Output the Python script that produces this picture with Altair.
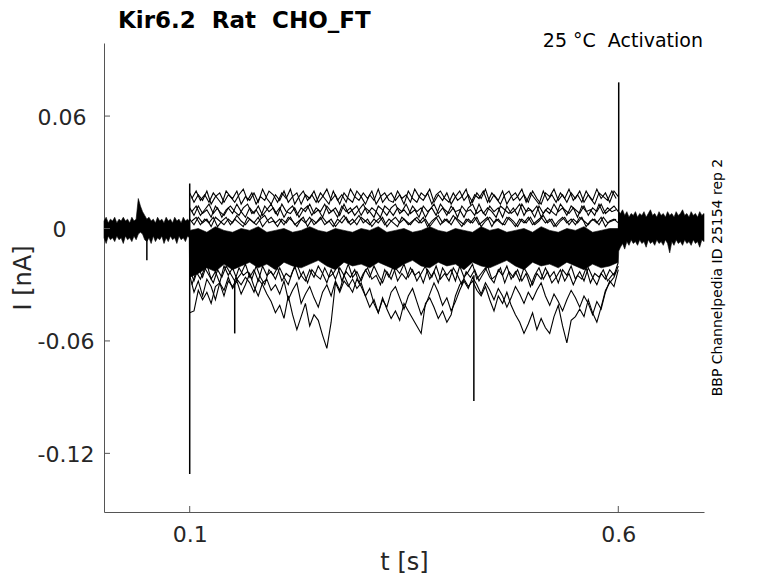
import altair as alt
import pandas as pd

# ---------------- axes / text ----------------
X_DOMAIN = [0.0, 0.7]
Y_DOMAIN = [-0.1513, 0.0990]
X_TICKS = [0.1, 0.6]
X_TICK_LABELS = ["0.1", "0.6"]
Y_TICKS = [0.06, 0.0, -0.06, -0.12]
Y_TICK_LABELS = ["0.06", "0", "-0.06", "-0.12"]

TITLE = "Kir6.2\u00a0 Rat\u00a0 CHO_FT"
CONDITION = "25 \u00b0C\u00a0 Activation"
SOURCE = "BBP Channelpedia ID 25154 rep 2"
X_TITLE = "t [s]"
Y_TITLE = "I [nA]"

# ---------------- baseline band before the step (nA) ----------------
PRE_T = [0.0000, 0.0025, 0.0050, 0.0075, 0.0100, 0.0125, 0.0150, 0.0175, 0.0200, 0.0225,
         0.0250, 0.0275, 0.0300, 0.0325, 0.0350, 0.0375, 0.0400, 0.0425, 0.0450, 0.0475,
         0.0500, 0.0525, 0.0550, 0.0575, 0.0600, 0.0625, 0.0650, 0.0675, 0.0700, 0.0725,
         0.0750, 0.0775, 0.0800, 0.0825, 0.0850, 0.0875, 0.0900, 0.0925, 0.0950, 0.0975,
         0.0995]
PRE_HI = [0.004, 0.006, 0.003, 0.005, 0.004, 0.006, 0.003, 0.005, 0.004, 0.006,
          0.004, 0.005, 0.003, 0.006, 0.004, 0.005, 0.016, 0.012, 0.009, 0.007,
          0.005, 0.006, 0.004, 0.005, 0.003, 0.006, 0.004, 0.005, 0.003, 0.006,
          0.004, 0.005, 0.003, 0.006, 0.004, 0.005, 0.003, 0.006, 0.004, 0.005,
          0.004]
PRE_LO = [-0.005, -0.008, -0.004, -0.006, -0.005, -0.007, -0.004, -0.006, -0.005, -0.008,
          -0.004, -0.006, -0.005, -0.007, -0.004, -0.006, -0.003, -0.002, -0.003, -0.006,
          -0.007, -0.005, -0.008, -0.004, -0.007, -0.005, -0.006, -0.004, -0.008, -0.005,
          -0.007, -0.004, -0.006, -0.005, -0.008, -0.004, -0.006, -0.005, -0.007, -0.004,
          -0.005]

# ---------------- during the step ----------------
STEP_T = [0.100, 0.105, 0.110, 0.115, 0.120, 0.125, 0.130, 0.135, 0.140, 0.145,
          0.150, 0.155, 0.160, 0.165, 0.170, 0.175, 0.180, 0.185, 0.190, 0.195,
          0.200, 0.205, 0.210, 0.215, 0.220, 0.225, 0.230, 0.235, 0.240, 0.245,
          0.250, 0.255, 0.260, 0.265, 0.270, 0.275, 0.280, 0.285, 0.290, 0.295,
          0.300, 0.305, 0.310, 0.315, 0.320, 0.325, 0.330, 0.335, 0.340, 0.345,
          0.350, 0.355, 0.360, 0.365, 0.370, 0.375, 0.380, 0.385, 0.390, 0.395,
          0.400, 0.405, 0.410, 0.415, 0.420, 0.425, 0.430, 0.435, 0.440, 0.445,
          0.450, 0.455, 0.460, 0.465, 0.470, 0.475, 0.480, 0.485, 0.490, 0.495,
          0.500, 0.505, 0.510, 0.515, 0.520, 0.525, 0.530, 0.535, 0.540, 0.545,
          0.550, 0.555, 0.560, 0.565, 0.570, 0.575, 0.580, 0.585, 0.590, 0.595,
          0.600]
# sweeps sampled half-way between the STEP_T samples
STEP_TM = [0.1025, 0.1075, 0.1125, 0.1175, 0.1225, 0.1275, 0.1325, 0.1375, 0.1425, 0.1475,
           0.1525, 0.1575, 0.1625, 0.1675, 0.1725, 0.1775, 0.1825, 0.1875, 0.1925, 0.1975,
           0.2025, 0.2075, 0.2125, 0.2175, 0.2225, 0.2275, 0.2325, 0.2375, 0.2425, 0.2475,
           0.2525, 0.2575, 0.2625, 0.2675, 0.2725, 0.2775, 0.2825, 0.2875, 0.2925, 0.2975,
           0.3025, 0.3075, 0.3125, 0.3175, 0.3225, 0.3275, 0.3325, 0.3375, 0.3425, 0.3475,
           0.3525, 0.3575, 0.3625, 0.3675, 0.3725, 0.3775, 0.3825, 0.3875, 0.3925, 0.3975,
           0.4025, 0.4075, 0.4125, 0.4175, 0.4225, 0.4275, 0.4325, 0.4375, 0.4425, 0.4475,
           0.4525, 0.4575, 0.4625, 0.4675, 0.4725, 0.4775, 0.4825, 0.4875, 0.4925, 0.4975,
           0.5025, 0.5075, 0.5125, 0.5175, 0.5225, 0.5275, 0.5325, 0.5375, 0.5425, 0.5475,
           0.5525, 0.5575, 0.5625, 0.5675, 0.5725, 0.5775, 0.5825, 0.5875, 0.5925, 0.5975]
CORE_T = [0.100, 0.110, 0.120, 0.130, 0.140, 0.150, 0.160, 0.170, 0.180, 0.190,
          0.200, 0.210, 0.220, 0.230, 0.240, 0.250, 0.260, 0.270, 0.280, 0.290,
          0.300, 0.310, 0.320, 0.330, 0.340, 0.350, 0.360, 0.370, 0.380, 0.390,
          0.400, 0.410, 0.420, 0.430, 0.440, 0.450, 0.460, 0.470, 0.480, 0.490,
          0.500, 0.510, 0.520, 0.530, 0.540, 0.550, 0.560, 0.570, 0.580, 0.590,
          0.600]
CORE_HI = [-0.001, 0.000, -0.002, 0.001, -0.001, -0.002, 0.000, -0.001, 0.001, -0.002,
           -0.001, 0.000, -0.002, -0.001, 0.001, -0.001, -0.002, 0.000, -0.001, -0.002,
           0.000, -0.001, 0.001, -0.002, -0.001, 0.000, -0.002, -0.001, 0.001, -0.001,
           -0.002, 0.000, -0.001, -0.002, 0.001, -0.001, 0.000, -0.002, -0.001, 0.000,
           -0.002, 0.001, -0.001, -0.002, 0.000, -0.001, 0.001, -0.002, -0.001, 0.000,
           0.000]
CORE_LO = [-0.026, -0.024, -0.021, -0.023, -0.019, -0.022, -0.020, -0.018, -0.021, -0.019,
           -0.022, -0.018, -0.020, -0.021, -0.019, -0.017, -0.020, -0.022, -0.018, -0.020,
           -0.019, -0.021, -0.018, -0.020, -0.022, -0.019, -0.017, -0.020, -0.021, -0.018,
           -0.020, -0.019, -0.022, -0.018, -0.020, -0.021, -0.019, -0.017, -0.020, -0.022,
           -0.018, -0.020, -0.019, -0.021, -0.018, -0.020, -0.022, -0.019, -0.021, -0.020,
           -0.018]

TRACE_A = [0.019, 0.014, 0.018, 0.015, 0.020, 0.013, 0.017, 0.019, 0.014, 0.018,
           0.016, 0.020, 0.013, 0.017, 0.015, 0.019, 0.014, 0.021, 0.016, 0.013,
           0.018, 0.015, 0.020, 0.014, 0.017, 0.019, 0.013, 0.018, 0.016, 0.020,
           0.014, 0.017, 0.021, 0.015, 0.018, 0.013, 0.019, 0.016, 0.014, 0.020,
           0.017, 0.013, 0.018, 0.015, 0.021, 0.014, 0.017, 0.019, 0.015, 0.018,
           0.013, 0.020, 0.016, 0.014, 0.019, 0.017, 0.021, 0.014, 0.018, 0.015,
           0.019, 0.013, 0.017, 0.020, 0.015, 0.018, 0.014, 0.019, 0.016, 0.021,
           0.014, 0.018, 0.015, 0.020, 0.013, 0.017, 0.019, 0.015, 0.018, 0.014,
           0.020, 0.016, 0.013, 0.019, 0.017, 0.021, 0.015, 0.018, 0.014, 0.019,
           0.016, 0.020, 0.014, 0.018, 0.015, 0.021, 0.016, 0.019, 0.014, 0.020,
           0.017]
TRACE_B = [0.011, 0.007, 0.012, 0.008, 0.010, 0.006, 0.012, 0.009, 0.007, 0.011,
           0.008, 0.013, 0.009, 0.006, 0.011, 0.008, 0.012, 0.007, 0.010, 0.013,
           0.008, 0.011, 0.006, 0.010, 0.012, 0.007, 0.011, 0.009, 0.013, 0.008,
           0.010, 0.006, 0.012, 0.009, 0.011, 0.007, 0.013, 0.008, 0.010, 0.012,
           0.007, 0.011, 0.009, 0.006, 0.012, 0.010, 0.007, 0.011, 0.013, 0.008,
           0.010, 0.007, 0.012, 0.009, 0.011, 0.006, 0.010, 0.013, 0.008, 0.011,
           0.007, 0.012, 0.009, 0.010, 0.006, 0.011, 0.013, 0.008, 0.010, 0.007,
           0.012, 0.009, 0.011, 0.006, 0.012, 0.008, 0.010, 0.013, 0.007, 0.011,
           0.009, 0.012, 0.006, 0.010, 0.008, 0.013, 0.009, 0.011, 0.007, 0.012,
           0.010, 0.008, 0.012, 0.007, 0.011, 0.009, 0.013, 0.008, 0.010, 0.012,
           0.009]
TRACE_C = [0.005, 0.002, 0.006, 0.003, 0.005, 0.001, 0.006, 0.004, 0.002, 0.005,
           0.003, 0.007, 0.004, 0.002, 0.005, 0.003, 0.006, 0.001, 0.004, 0.006,
           0.003, 0.005, 0.002, 0.006, 0.004, 0.001, 0.005, 0.003, 0.006, 0.002,
           0.004, 0.006, 0.003, 0.005, 0.001, 0.004, 0.007, 0.003, 0.005, 0.002,
           0.006, 0.004, 0.002, 0.005, 0.003, 0.006, 0.001, 0.004, 0.006, 0.003,
           0.005, 0.002, 0.004, 0.006, 0.003, 0.005, 0.001, 0.004, 0.007, 0.003,
           0.005, 0.002, 0.006, 0.004, 0.002, 0.005, 0.003, 0.006, 0.001, 0.004,
           0.006, 0.003, 0.005, 0.002, 0.006, 0.004, 0.001, 0.005, 0.003, 0.006,
           0.002, 0.004, 0.006, 0.003, 0.005, 0.001, 0.004, 0.006, 0.003, 0.005,
           0.002, 0.006, 0.004, 0.002, 0.005, 0.003, 0.006, 0.001, 0.004, 0.005,
           0.003]
TRACE_L1 = [-0.045, -0.044, -0.033, -0.038, -0.034, -0.040, -0.031, -0.029, -0.036, -0.028,
            -0.031, -0.027, -0.030, -0.026, -0.029, -0.034, -0.027, -0.030, -0.035, -0.039,
            -0.045, -0.041, -0.048, -0.036, -0.046, -0.054, -0.047, -0.040, -0.052, -0.046,
            -0.049, -0.057, -0.064, -0.050, -0.029, -0.034, -0.028, -0.031, -0.027, -0.032,
            -0.029, -0.036, -0.042, -0.038, -0.045, -0.037, -0.043, -0.048, -0.044, -0.049,
            -0.040, -0.044, -0.048, -0.052, -0.056, -0.040, -0.037, -0.042, -0.048, -0.044,
            -0.050, -0.046, -0.036, -0.030, -0.027, -0.031, -0.028, -0.033, -0.036, -0.031,
            -0.038, -0.044, -0.036, -0.040, -0.034, -0.041, -0.046, -0.050, -0.056, -0.051,
            -0.045, -0.054, -0.048, -0.053, -0.056, -0.047, -0.041, -0.052, -0.061, -0.049,
            -0.047, -0.043, -0.047, -0.038, -0.045, -0.050, -0.042, -0.033, -0.029, -0.026,
            -0.020]
TRACE_L2 = [-0.025, -0.034, -0.028, -0.036, -0.027, -0.031, -0.038, -0.029, -0.033, -0.026,
            -0.032, -0.028, -0.035, -0.030, -0.024, -0.031, -0.036, -0.029, -0.027, -0.033,
            -0.030, -0.035, -0.028, -0.038, -0.033, -0.029, -0.040, -0.035, -0.031, -0.037,
            -0.042, -0.034, -0.030, -0.036, -0.028, -0.033, -0.025, -0.030, -0.034, -0.027,
            -0.031, -0.036, -0.032, -0.040, -0.045, -0.038, -0.042, -0.034, -0.031, -0.037,
            -0.043, -0.036, -0.032, -0.039, -0.046, -0.041, -0.035, -0.029, -0.034, -0.041,
            -0.037, -0.044, -0.039, -0.033, -0.028, -0.032, -0.026, -0.030, -0.035, -0.029,
            -0.033, -0.038, -0.032, -0.036, -0.042, -0.037, -0.031, -0.035, -0.040, -0.034,
            -0.038, -0.033, -0.029, -0.036, -0.041, -0.035, -0.039, -0.044, -0.038, -0.033,
            -0.037, -0.042, -0.036, -0.040, -0.046, -0.039, -0.043, -0.034, -0.028, -0.031,
            -0.022]
TRACE_L3 = [-0.022, -0.028, -0.021, -0.026, -0.019, -0.027, -0.023, -0.029, -0.020, -0.025,
            -0.021, -0.027, -0.024, -0.019, -0.026, -0.022, -0.028, -0.020, -0.025, -0.023,
            -0.027, -0.021, -0.026, -0.030, -0.023, -0.019, -0.025, -0.028, -0.022, -0.026,
            -0.020, -0.024, -0.029, -0.022, -0.027, -0.021, -0.025, -0.019, -0.026, -0.023,
            -0.028, -0.022, -0.026, -0.020, -0.025, -0.029, -0.023, -0.027, -0.021, -0.024,
            -0.019, -0.026, -0.022, -0.028, -0.024, -0.020, -0.027, -0.023, -0.029, -0.021,
            -0.025, -0.022, -0.028, -0.020, -0.026, -0.023, -0.019, -0.027, -0.024, -0.021,
            -0.026, -0.029, -0.022, -0.025, -0.020, -0.027, -0.023, -0.028, -0.021, -0.025,
            -0.030, -0.024, -0.027, -0.021, -0.026, -0.023, -0.029, -0.022, -0.025, -0.020,
            -0.027, -0.023, -0.028, -0.021, -0.026, -0.030, -0.024, -0.027, -0.022, -0.025,
            -0.018]

# second set of sweeps on STEP_TM
TRACE_A2 = [0.016, 0.020, 0.015, 0.018, 0.014, 0.019, 0.016, 0.013, 0.020, 0.017,
            0.014, 0.018, 0.021, 0.015, 0.019, 0.013, 0.017, 0.015, 0.020, 0.018,
            0.014, 0.019, 0.016, 0.021, 0.013, 0.017, 0.020, 0.015, 0.018, 0.014,
            0.019, 0.016, 0.013, 0.020, 0.015, 0.018, 0.014, 0.021, 0.017, 0.015,
            0.019, 0.016, 0.020, 0.013, 0.017, 0.019, 0.015, 0.014, 0.020, 0.016,
            0.018, 0.014, 0.021, 0.017, 0.015, 0.019, 0.013, 0.018, 0.020, 0.016,
            0.014, 0.019, 0.015, 0.017, 0.021, 0.013, 0.018, 0.016, 0.020, 0.014,
            0.019, 0.016, 0.013, 0.018, 0.020, 0.015, 0.017, 0.021, 0.014, 0.019,
            0.016, 0.013, 0.020, 0.015, 0.018, 0.014, 0.019, 0.016, 0.021, 0.015,
            0.018, 0.014, 0.020, 0.016, 0.013, 0.019, 0.017, 0.015, 0.020, 0.016]
TRACE_B2 = [0.009, 0.012, 0.007, 0.010, 0.013, 0.008, 0.011, 0.006, 0.010, 0.012,
            0.009, 0.007, 0.011, 0.013, 0.008, 0.010, 0.006, 0.012, 0.009, 0.011,
            0.007, 0.013, 0.009, 0.008, 0.011, 0.006, 0.010, 0.012, 0.007, 0.011,
            0.009, 0.013, 0.008, 0.010, 0.006, 0.012, 0.009, 0.011, 0.007, 0.010,
            0.013, 0.008, 0.011, 0.009, 0.006, 0.012, 0.010, 0.007, 0.011, 0.009,
            0.013, 0.008, 0.010, 0.006, 0.012, 0.009, 0.011, 0.007, 0.013, 0.010,
            0.008, 0.011, 0.006, 0.012, 0.009, 0.010, 0.007, 0.013, 0.008, 0.011,
            0.009, 0.006, 0.012, 0.010, 0.008, 0.011, 0.007, 0.013, 0.009, 0.010,
            0.006, 0.012, 0.008, 0.011, 0.009, 0.007, 0.013, 0.010, 0.008, 0.011,
            0.006, 0.012, 0.009, 0.010, 0.007, 0.013, 0.008, 0.011, 0.009, 0.010]
TRACE_C2 = [0.004, 0.006, 0.002, 0.005, 0.003, 0.006, 0.001, 0.004, 0.006, 0.002,
            0.005, 0.003, 0.001, 0.006, 0.004, 0.002, 0.005, 0.007, 0.003, 0.004,
            0.001, 0.005, 0.003, 0.006, 0.002, 0.004, 0.006, 0.001, 0.005, 0.003,
            0.006, 0.002, 0.004, 0.001, 0.005, 0.003, 0.006, 0.002, 0.004, 0.007,
            0.003, 0.005, 0.001, 0.004, 0.006, 0.002, 0.005, 0.003, 0.001, 0.006,
            0.004, 0.002, 0.005, 0.003, 0.006, 0.001, 0.004, 0.006, 0.002, 0.005,
            0.003, 0.007, 0.004, 0.001, 0.005, 0.003, 0.006, 0.002, 0.004, 0.006,
            0.001, 0.005, 0.003, 0.002, 0.006, 0.004, 0.001, 0.005, 0.003, 0.006,
            0.002, 0.004, 0.007, 0.003, 0.005, 0.001, 0.004, 0.006, 0.002, 0.005,
            0.003, 0.006, 0.001, 0.004, 0.005, 0.002, 0.006, 0.003, 0.004, 0.005]
TRACE_L4 = [-0.030, -0.023, -0.027, -0.021, -0.025, -0.029, -0.022, -0.026, -0.020, -0.024,
            -0.028, -0.021, -0.025, -0.023, -0.027, -0.020, -0.026, -0.030, -0.022, -0.025,
            -0.021, -0.028, -0.024, -0.026, -0.020, -0.027, -0.023, -0.029, -0.022, -0.025,
            -0.027, -0.021, -0.026, -0.024, -0.020, -0.028, -0.023, -0.026, -0.022, -0.029,
            -0.024, -0.021, -0.027, -0.025, -0.030, -0.022, -0.026, -0.020, -0.028, -0.024,
            -0.027, -0.021, -0.025, -0.023, -0.029, -0.022, -0.026, -0.020, -0.027, -0.024,
            -0.028, -0.021, -0.025, -0.030, -0.023, -0.026, -0.022, -0.028, -0.024, -0.020,
            -0.027, -0.025, -0.021, -0.029, -0.023, -0.026, -0.022, -0.028, -0.024, -0.031,
            -0.025, -0.021, -0.027, -0.023, -0.029, -0.026, -0.022, -0.028, -0.024, -0.030,
            -0.025, -0.027, -0.021, -0.029, -0.024, -0.026, -0.022, -0.028, -0.025, -0.023]

# ---------------- after the step ----------------
POST_T = [0.6005, 0.6025, 0.6050, 0.6075, 0.6100, 0.6125, 0.6150, 0.6175, 0.6200, 0.6225,
          0.6250, 0.6275, 0.6300, 0.6325, 0.6350, 0.6375, 0.6400, 0.6425, 0.6450, 0.6475,
          0.6500, 0.6525, 0.6550, 0.6575, 0.6600, 0.6625, 0.6650, 0.6675, 0.6700, 0.6725,
          0.6750, 0.6775, 0.6800, 0.6825, 0.6850, 0.6875, 0.6900, 0.6925, 0.6950, 0.6975,
          0.7000]
POST_HI = [0.009, 0.008, 0.010, 0.007, 0.009, 0.006, 0.008, 0.007, 0.009, 0.006,
           0.008, 0.007, 0.009, 0.006, 0.008, 0.010, 0.007, 0.008, 0.006, 0.009,
           0.007, 0.008, 0.006, 0.009, 0.007, 0.008, 0.006, 0.009, 0.007, 0.008,
           0.010, 0.007, 0.008, 0.006, 0.009, 0.007, 0.008, 0.006, 0.009, 0.007,
           0.008]
POST_LO = [-0.012, -0.010, -0.008, -0.011, -0.007, -0.009, -0.006, -0.008, -0.007, -0.009,
           -0.006, -0.008, -0.007, -0.010, -0.006, -0.008, -0.007, -0.009, -0.006, -0.008,
           -0.007, -0.009, -0.006, -0.008, -0.013, -0.007, -0.009, -0.006, -0.008, -0.007,
           -0.009, -0.006, -0.008, -0.007, -0.009, -0.006, -0.008, -0.007, -0.010, -0.006,
           -0.007]

# ---------------- capacitive / single spikes ----------------
SPIKE_T = [0.0500, 0.1000, 0.1525, 0.4315, 0.6005]
SPIKE_TOP = [-0.004, 0.024, -0.028, -0.025, 0.078]
SPIKE_BOTTOM = [-0.017, -0.131, -0.056, -0.092, -0.010]

# ---------------- tables ----------------
band_df = pd.DataFrame({
    "t": PRE_T + CORE_T + POST_T,
    "hi": PRE_HI + CORE_HI + POST_HI,
    "lo": PRE_LO + CORE_LO + POST_LO,
})
rows = []
for name, times, vals in [("A", STEP_T, TRACE_A), ("B", STEP_T, TRACE_B), ("C", STEP_T, TRACE_C),
                          ("L1", STEP_T, TRACE_L1), ("L2", STEP_T, TRACE_L2), ("L3", STEP_T, TRACE_L3),
                          ("A2", STEP_TM, TRACE_A2), ("B2", STEP_TM, TRACE_B2),
                          ("C2", STEP_TM, TRACE_C2), ("L4", STEP_TM, TRACE_L4)]:
    assert len(vals) == len(times), name
    for t, v in zip(times, vals):
        rows.append({"trace": name, "t": t, "y": v})
trace_df = pd.DataFrame(rows)
spike_df = pd.DataFrame({"t": SPIKE_T, "top": SPIKE_TOP, "bottom": SPIKE_BOTTOM})
ytick_df = pd.DataFrame({"v": Y_TICKS})
xtick_df = pd.DataFrame({"v": X_TICKS})

W, H = 600, 469
FONT = "DejaVu Sans"
AX = "#555555"
TXT = "#262626"


def label_expr(values, labels):
    expr = "''"
    for v, lab in reversed(list(zip(values, labels))):
        expr = f"abs(datum.value - ({v})) < 1e-9 ? '{lab}' : {expr}"
    return expr


x_axis = alt.Axis(values=X_TICKS, labelExpr=label_expr(X_TICKS, X_TICK_LABELS),
                  ticks=False, grid=False, domainColor=AX, domainWidth=1,
                  labelFont=FONT, labelFontSize=22, labelColor=TXT, labelPadding=12,
                  labelFlush=False, labelOverlap=False,
                  title=X_TITLE, titleFont=FONT, titleFontSize=24, titleFontWeight="normal",
                  titleColor=TXT, titleX=W / 2, titleY=57, titleAlign="center",
                  titleBaseline="alphabetic")
y_axis = alt.Axis(values=Y_TICKS, labelExpr=label_expr(Y_TICKS, Y_TICK_LABELS),
                  ticks=False, grid=False, domainColor=AX, domainWidth=1,
                  labelFont=FONT, labelFontSize=22, labelColor=TXT,
                  labelAlign="left", labelBaseline="middle", labelOffset=1,
                  labelPadding={"condition": {"test": "datum.value == 0", "value": 52},
                                "value": 67},
                  labelFlush=False, labelOverlap=False,
                  title=Y_TITLE, titleFont=FONT, titleFontSize=24, titleFontWeight="normal",
                  titleColor=TXT, titleX=-74, titleY=H / 2, titleAngle=270,
                  titleAlign="center", titleBaseline="alphabetic")


def X(field):
    return alt.X(f"{field}:Q", scale=alt.Scale(domain=X_DOMAIN, nice=False, zero=False),
                 axis=x_axis)


def Y(field):
    return alt.Y(f"{field}:Q", scale=alt.Scale(domain=Y_DOMAIN, nice=False, zero=False),
                 axis=y_axis)


band = alt.Chart(band_df).mark_area(color="black", stroke="black", strokeWidth=0.6).encode(
    x=X("t"), y=Y("hi"), y2=alt.Y2("lo"))
lines = alt.Chart(trace_df).mark_line(color="black", strokeWidth=1.1).encode(
    x=X("t"), y=Y("y"), detail="trace:N")
spikes = alt.Chart(spike_df).mark_rule(color="black", strokeWidth=1.5).encode(
    x=X("t"), y=Y("top"), y2=alt.Y2("bottom"))
yticks = alt.Chart(ytick_df).mark_rule(color=AX, strokeWidth=1).encode(
    y=Y("v"), x=alt.value(0), x2=alt.value(6))
xticks = alt.Chart(xtick_df).mark_rule(color=AX, strokeWidth=1).encode(
    x=X("v"), y=alt.value(H), y2=alt.value(H - 6))

title_txt = alt.Chart(pd.DataFrame({"label": [TITLE]})).mark_text(
    align="left", baseline="alphabetic", font=FONT, fontSize=23, fontWeight="bold",
    color="black").encode(text="label:N", x=alt.value(14), y=alt.value(-15))
cond_txt = alt.Chart(pd.DataFrame({"label": [CONDITION]})).mark_text(
    align="right", baseline="alphabetic", font=FONT, fontSize=19,
    color="black").encode(text="label:N", x=alt.value(W - 1), y=alt.value(4))
src_txt = alt.Chart(pd.DataFrame({"label": [SOURCE]})).mark_text(
    align="center", baseline="alphabetic", font=FONT, fontSize=14, angle=270,
    color="black").encode(text="label:N", x=alt.value(W + 18), y=alt.value(H / 2))

chart = alt.layer(band, lines, spikes, yticks, xticks, title_txt, cond_txt, src_txt).properties(
    width=W, height=H,
    autosize=alt.AutoSizeParams(type="none"),
    padding={"left": 96, "top": 35, "right": 66, "bottom": 63},
    background="white",
).configure_view(stroke=None)

chart.save("out.html", embed_options={"renderer": "svg", "actions": False})
